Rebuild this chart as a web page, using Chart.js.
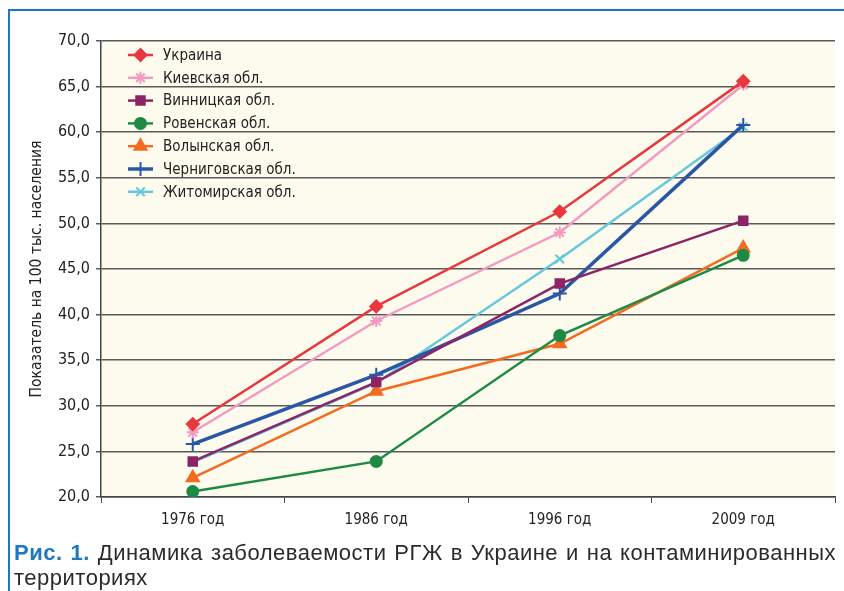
<!DOCTYPE html>
<html>
<head>
<meta charset="utf-8">
<script src="https://cdn.jsdelivr.net/npm/chart.js@4/dist/chart.umd.min.js"></script>
<style>
  html, body { margin: 0; padding: 0; background: #fff; }
  #wrap { position: relative; width: 844px; height: 591px; overflow: hidden; }
  #frame { position: absolute; left: 8px; top: 9px; width: 850px; height: 600px;
           border-left: 2px solid #1d78c1; border-top: 2px solid #1d78c1; }
  canvas { position: absolute; left: 0; top: 0; }
  #caption { position: absolute; left: 14px; top: 540px; width: 822px;
             font-family: "Liberation Sans", Arial, sans-serif; font-size: 22px;
             letter-spacing: 0.5px; line-height: 25px; color: #2b2b2b; text-align: justify; }
  #caption b { color: #1d78c1; }
</style>
</head>
<body>
<div id="wrap">
  <div id="frame"></div>
  <canvas id="chart" width="844" height="591"></canvas>
  <div id="caption"><b>Рис. 1.</b> Динамика заболеваемости РГЖ в Украине и на контаминированных территориях</div>
</div>
<script>
const years = ["1976 год", "1986 год", "1996 год", "2009 год"];
const ukraine = [28.0, 40.9, 51.3, 65.6];
const kyiv = [27.1, 39.3, 49.0, 65.2];
const vinnytsia = [23.9, 32.6, 43.4, 50.3];
const rivne = [20.6, 23.9, 37.7, 46.5];
const volyn = [22.1, 31.6, 36.8, 47.3];
const chernihiv = [25.8, 33.4, 42.3, 60.8];
const zhytomyr = [23.8, 32.5, 46.1, 60.6];

const FONT = '"DejaVu Sans Condensed", "Liberation Sans Narrow", sans-serif';

function series(label, data, color, style, radius, width) {
  return {
    label: label,
    data: data,
    borderColor: color,
    backgroundColor: color,
    pointBorderColor: color,
    pointBackgroundColor: color,
    pointStyle: style,
    pointRadius: radius,
    pointBorderWidth: 2,
    borderWidth: width || 2.5,
    tension: 0,
  };
}

// cream plot background
const bgPlugin = {
  id: "plotBg",
  beforeDraw(chart) {
    const a = chart.chartArea;
    const ctx = chart.ctx;
    ctx.save();
    ctx.fillStyle = "#fdfbee";
    ctx.fillRect(a.left, a.top, a.right - a.left, a.bottom - a.top);
    ctx.restore();
  },
};

// legend drawn inside the plot, top left
const legendPlugin = {
  id: "innerLegend",
  afterDatasetsDraw(chart) {
    const ctx = chart.ctx;
    const x0 = chart.chartArea.left + 27;
    let y = chart.chartArea.top + 14;
    ctx.save();
    chart.data.datasets.forEach((ds) => {
      ctx.strokeStyle = ds.borderColor;
      ctx.lineWidth = ds.borderWidth;
      ctx.beginPath();
      ctx.moveTo(x0, y);
      ctx.lineTo(x0 + 25, y);
      ctx.stroke();
      ctx.fillStyle = ds.backgroundColor;
      ctx.lineWidth = 2;
      Chart.helpers.drawPoint(ctx, {
        pointStyle: ds.pointStyle,
        radius: ds.pointRadius,
        borderWidth: 2,
      }, x0 + 12.5, y);
      ctx.fillStyle = "#222";
      ctx.font = "15px " + FONT;
      ctx.textBaseline = "middle";
      ctx.fillText(ds.label, x0 + 35, y + 1);
      y += 22.8;
    });
    ctx.restore();
  },
};

new Chart(document.getElementById("chart"), {
  type: "line",
  data: {
    labels: years,
    datasets: [
      series("Украина", ukraine, "#e8383d", "rectRot", 6),
      series("Киевская обл.", kyiv, "#f49ac1", "star", 6),
      series("Винницкая обл.", vinnytsia, "#8c2466", "rect", 6),
      series("Ровенская обл.", rivne, "#1e8a44", "circle", 5.5),
      series("Волынская обл.", volyn, "#f26b21", "triangle", 7),
      series("Черниговская обл.", chernihiv, "#2a56a6", "cross", 7, 3.5),
      series("Житомирская обл.", zhytomyr, "#66c8dc", "crossRot", 6),
    ],
  },
  options: {
    responsive: false,
    animation: false,
    layout: { padding: { top: 41, right: 7, left: 0, bottom: 0 } },
    plugins: {
      legend: { display: false },
      tooltip: { enabled: false },
    },
    scales: {
      x: {
        offset: true,
        grid: {
          display: true,
          offset: true,
          drawOnChartArea: false,
          color: "#444",
          tickLength: 6,
        },
        border: { color: "#444", width: 1.5 },
        ticks: { color: "#222", font: { family: FONT, size: 15 }, padding: 8 },
        afterFit(s) { s.height = 94; },
      },
      y: {
        min: 20,
        max: 70,
        ticks: {
          stepSize: 5,
          color: "#222",
          padding: 6,
          font: { family: FONT, size: 16 },
          callback: (v) => v.toFixed(1).replace(".", ","),
        },
        grid: { color: "#5a5a5a", lineWidth: 1.5, tickLength: 5 },
        border: { color: "#444", width: 1.5 },
        title: {
          display: true,
          text: "Показатель на 100 тыс. населения",
          color: "#222",
          font: { family: FONT, size: 15.5 },
          padding: { top: 28, bottom: 6 },
        },
        afterFit(s) { s.width = 101; },
      },
    },
  },
  plugins: [bgPlugin, legendPlugin],
});
</script>
</body>
</html>
